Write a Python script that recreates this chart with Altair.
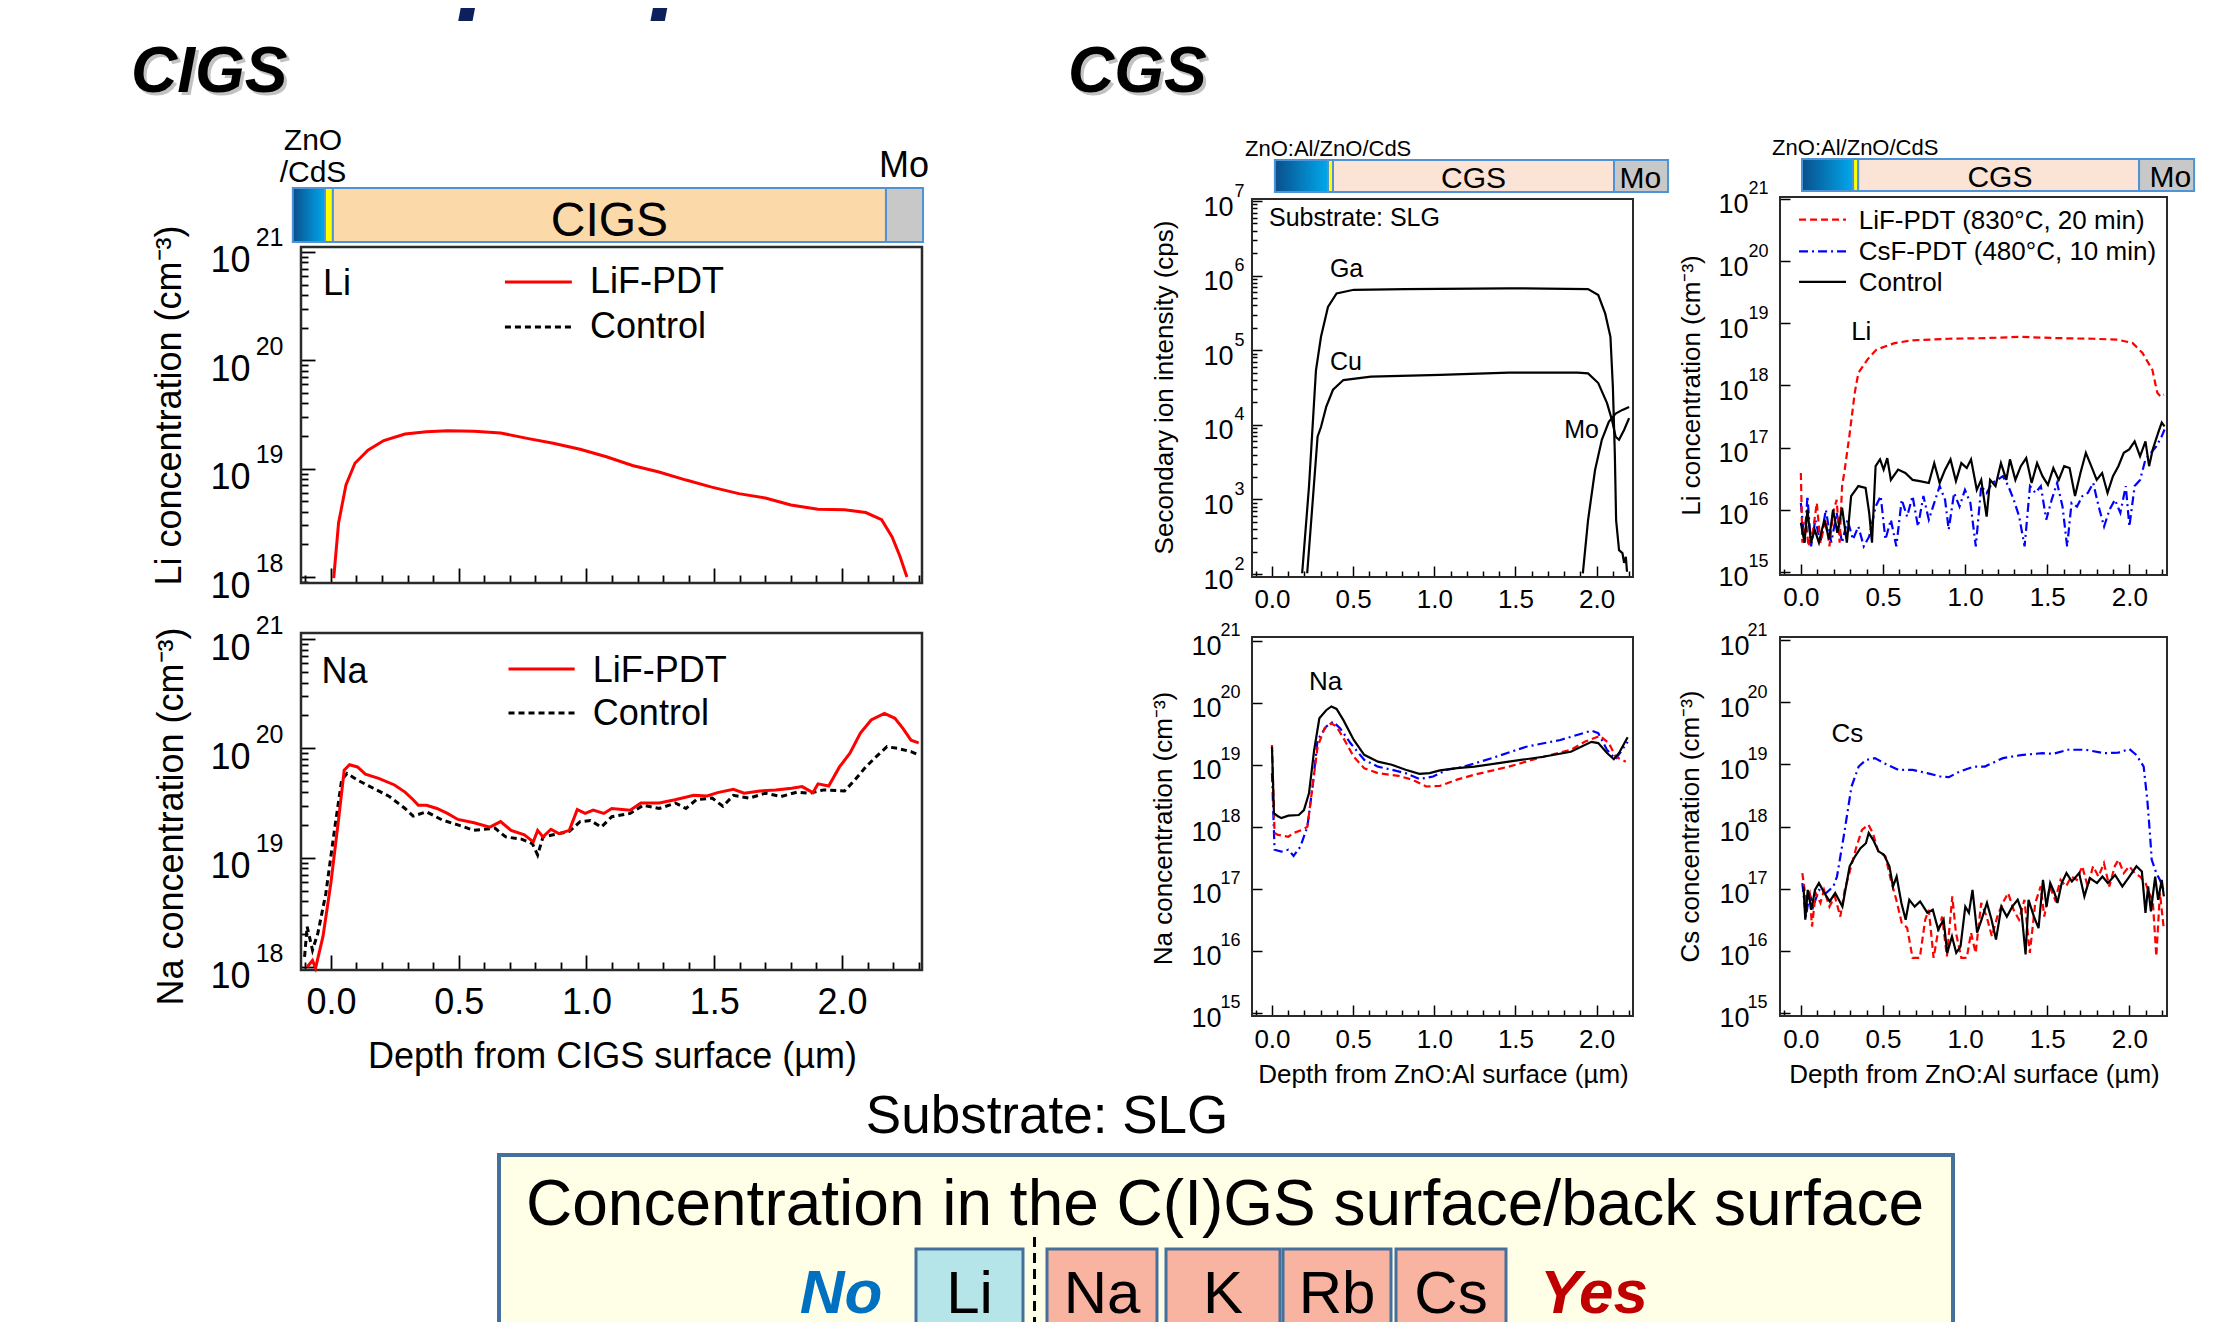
import math
import altair as alt
import pandas as pd

W, H = 2200, 1314
FONT = "Liberation Sans"


def P(v):
    return v - 8


# ======================= data (depth in um, log10 of value) =======================
# CIGS, Li (LiF-PDT)
cigs_li_lif_x = [0.011, 0.03, 0.059, 0.094, 0.145, 0.207, 0.29, 0.374, 0.456, 0.56, 0.664, 0.768, 0.87, 0.975,
                 1.078, 1.18, 1.284, 1.39, 1.49, 1.596, 1.70, 1.80, 1.906, 2.01, 2.093, 2.155, 2.196, 2.227, 2.254]
cigs_li_lif_e = [17.99, 18.50, 18.85, 19.05, 19.17, 19.26, 19.32, 19.34, 19.35, 19.345, 19.33, 19.28, 19.235, 19.18,
                 19.11, 19.03, 18.97, 18.895, 18.83, 18.77, 18.73, 18.665, 18.625, 18.62, 18.595, 18.53, 18.37, 18.19, 18.0]
# CIGS, Na (LiF-PDT)
cigs_na_lif_x = [-0.093, -0.072, -0.06, -0.031, 0.0, 0.031, 0.052, 0.073, 0.104, 0.135, 0.187, 0.249, 0.29, 0.322,
                 0.342, 0.374, 0.415, 0.456, 0.497, 0.56, 0.622, 0.664, 0.705, 0.757, 0.792, 0.809, 0.83, 0.861, 0.892,
                 0.933, 0.964, 0.995, 1.026, 1.068, 1.099, 1.171, 1.213, 1.285, 1.347, 1.42, 1.472, 1.513, 1.575, 1.617,
                 1.679, 1.741, 1.803, 1.844, 1.886, 1.906, 1.948, 1.99, 2.031, 2.072, 2.114, 2.166, 2.207, 2.239, 2.27, 2.30]
cigs_na_lif_e = [18.0, 18.06, 17.99, 18.28, 18.77, 19.37, 19.80, 19.85, 19.83, 19.765, 19.725, 19.665, 19.60, 19.53,
                 19.48, 19.48, 19.45, 19.405, 19.35, 19.32, 19.28, 19.33, 19.25, 19.21, 19.145, 19.25, 19.19, 19.26, 19.22,
                 19.25, 19.44, 19.405, 19.435, 19.405, 19.45, 19.435, 19.50, 19.50, 19.53, 19.57, 19.565, 19.595, 19.625,
                 19.59, 19.61, 19.62, 19.635, 19.65, 19.595, 19.675, 19.655, 19.83, 19.955, 20.14, 20.26, 20.32, 20.275,
                 20.18, 20.075, 20.05]
# CIGS, Na (Control)
cigs_na_ctl_x = [-0.103, -0.093, -0.072, -0.051, -0.02, 0.012, 0.042, 0.063, 0.104, 0.166, 0.229, 0.29, 0.322, 0.374,
                 0.435, 0.497, 0.56, 0.642, 0.684, 0.746, 0.788, 0.809, 0.83, 0.87, 0.933, 0.975, 1.016, 1.058, 1.099,
                 1.171, 1.223, 1.285, 1.348, 1.389, 1.43, 1.492, 1.534, 1.575, 1.638, 1.70, 1.762, 1.824, 1.875, 1.928,
                 2.01, 2.05, 2.093, 2.134, 2.176, 2.217, 2.27, 2.30]
cigs_na_ctl_e = [18.094, 18.37, 18.155, 18.31, 18.67, 19.22, 19.71, 19.77, 19.71, 19.635, 19.56, 19.45, 19.38, 19.42,
                 19.345, 19.30, 19.25, 19.27, 19.19, 19.17, 19.13, 19.025, 19.19, 19.21, 19.24, 19.33, 19.34, 19.28, 19.375,
                 19.405, 19.48, 19.45, 19.50, 19.45, 19.53, 19.545, 19.47, 19.57, 19.545, 19.59, 19.56, 19.60, 19.59, 19.62,
                 19.61, 19.71, 19.83, 19.925, 20.015, 20.0, 19.97, 19.94]
# CGS, secondary ion intensity
cgs_ga_x = [0.186, 0.228, 0.271, 0.302, 0.345, 0.398, 0.504, 0.823, 1.459, 1.947, 2.01, 2.053, 2.085, 2.10, 2.112,
            2.12, 2.138, 2.159, 2.169, 2.18, 2.187]
cgs_ga_e = [2.01, 3.17, 4.73, 5.18, 5.58, 5.76, 5.81, 5.82, 5.83, 5.82, 5.74, 5.49, 5.18, 4.51, 3.62, 2.72, 2.32,
            2.28, 2.15, 2.23, 2.03]
cgs_cu_x = [0.217, 0.25, 0.281, 0.302, 0.334, 0.376, 0.44, 0.61, 1.035, 1.459, 1.883, 1.947, 2.01, 2.064, 2.095,
            2.117, 2.138, 2.169, 2.20]
cgs_cu_e = [2.01, 2.95, 3.84, 3.97, 4.24, 4.47, 4.60, 4.645, 4.67, 4.70, 4.70, 4.69, 4.56, 4.29, 4.06, 3.84, 3.80,
            3.93, 4.09]
cgs_mo_x = [1.915, 1.947, 1.99, 2.032, 2.075, 2.117, 2.159, 2.20]
cgs_mo_e = [2.01, 2.72, 3.39, 3.80, 4.04, 4.15, 4.20, 4.24]
# CGS, Li
cgs_li_lif_x = [0.0, 0.009, 0.031, 0.046, 0.075, 0.097, 0.119, 0.152, 0.174, 0.196, 0.218, 0.236, 0.251, 0.267, 0.295,
                0.328, 0.35, 0.405, 0.46, 0.57, 0.68, 0.90, 1.12, 1.34, 1.56, 1.78, 1.93, 2.02, 2.08, 2.14, 2.17, 2.19, 2.21]
cgs_li_lif_e = [16.59, 15.47, 15.84, 15.41, 15.68, 16.11, 15.47, 15.84, 15.41, 15.95, 16.16, 15.47, 16.38, 16.645, 17.18,
                17.88, 18.20, 18.415, 18.575, 18.68, 18.725, 18.75, 18.76, 18.78, 18.76, 18.75, 18.735, 18.68, 18.52, 18.25,
                17.88, 17.82, 17.85]
cgs_li_ctl_x = [0.0, 0.022, 0.04, 0.062, 0.084, 0.11, 0.143, 0.172, 0.196, 0.222, 0.251, 0.28, 0.306, 0.35, 0.394,
                0.416, 0.433, 0.455, 0.482, 0.504, 0.526, 0.548, 0.592, 0.636, 0.68, 0.724, 0.779, 0.812, 0.845, 0.878,
                0.911, 0.944, 0.977, 1.01, 1.036, 1.071, 1.098, 1.131, 1.152, 1.185, 1.218, 1.251, 1.273, 1.306, 1.339,
                1.372, 1.405, 1.438, 1.471, 1.504, 1.537, 1.57, 1.603, 1.636, 1.669, 1.702, 1.735, 1.768, 1.801, 1.834,
                1.867, 1.9, 1.933, 1.966, 1.999, 2.032, 2.065, 2.098, 2.12, 2.142, 2.175, 2.197, 2.214]
cgs_li_ctl_e = [15.79, 15.47, 16.0, 15.47, 15.68, 15.47, 15.84, 15.52, 16.0, 15.63, 16.03, 15.47, 16.22, 16.38, 16.35,
                15.95, 15.47, 16.70, 16.81, 16.645, 16.83, 16.48, 16.645, 16.59, 16.48, 16.46, 16.43, 16.75, 16.43, 16.645,
                16.81, 16.46, 16.75, 16.67, 16.81, 16.32, 16.48, 15.89, 16.48, 16.38, 16.75, 16.48, 16.81, 16.48, 16.70,
                16.83, 16.43, 16.75, 16.54, 16.40, 16.67, 16.48, 16.70, 16.67, 16.22, 16.59, 16.915, 16.70, 16.48, 16.59,
                16.27, 16.54, 16.70, 16.915, 16.97, 17.10, 16.86, 17.10, 16.70, 16.97, 17.235, 17.40, 17.34]
cgs_li_csf_x = [0.0, 0.022, 0.04, 0.062, 0.088, 0.119, 0.152, 0.185, 0.218, 0.251, 0.284, 0.317, 0.35, 0.383, 0.416,
                0.455, 0.486, 0.515, 0.548, 0.581, 0.614, 0.647, 0.68, 0.713, 0.746, 0.779, 0.812, 0.845, 0.878, 0.9,
                0.933, 0.966, 0.999, 1.032, 1.065, 1.098, 1.131, 1.164, 1.197, 1.23, 1.263, 1.296, 1.329, 1.362, 1.395,
                1.428, 1.461, 1.494, 1.527, 1.56, 1.593, 1.621, 1.648, 1.681, 1.714, 1.747, 1.78, 1.813, 1.846, 1.879,
                1.912, 1.945, 1.978, 2.0, 2.032, 2.065, 2.098, 2.131, 2.164, 2.197, 2.214]
cgs_li_csf_e = [16.11, 15.47, 16.22, 15.41, 15.84, 15.47, 16.0, 15.47, 15.95, 15.47, 15.84, 15.52, 15.73, 15.41, 15.57,
                16.05, 16.22, 15.52, 15.84, 15.41, 16.16, 15.89, 16.22, 15.73, 16.22, 15.84, 16.11, 16.38, 16.16, 15.68,
                16.27, 16.05, 16.32, 16.11, 15.41, 16.38, 16.27, 16.43, 16.48, 16.54, 16.38, 16.16, 15.89, 15.41, 16.38,
                16.27, 16.38, 15.84, 16.16, 16.43, 16.05, 15.41, 16.11, 16.05, 16.22, 16.27, 16.43, 16.05, 15.73, 16.0,
                16.16, 15.95, 16.38, 15.73, 16.38, 16.48, 16.81, 16.915, 17.02, 17.18, 17.29]
# CGS, Na
cgs_na_ctl_x = [0.0, 0.012, 0.037, 0.058, 0.101, 0.165, 0.197, 0.228, 0.26, 0.292, 0.334, 0.366, 0.398, 0.44, 0.504,
                0.568, 0.653, 0.738, 0.823, 0.908, 0.971, 1.035, 1.14, 1.247, 1.459, 1.671, 1.841, 1.968, 2.01, 2.064,
                2.106, 2.138, 2.191]
cgs_na_ctl_e = [19.29, 18.22, 18.17, 18.14, 18.18, 18.19, 18.27, 18.54, 19.24, 19.75, 19.88, 19.94, 19.90, 19.72, 19.40,
                19.16, 19.05, 19.0, 18.92, 18.855, 18.865, 18.91, 18.945, 18.97, 19.05, 19.13, 19.21, 19.37, 19.35, 19.19,
                19.09, 19.19, 19.445]
cgs_na_lif_x = [0.0, 0.016, 0.037, 0.101, 0.133, 0.186, 0.218, 0.25, 0.281, 0.324, 0.366, 0.398, 0.44, 0.504, 0.568,
                0.653, 0.78, 0.865, 0.95, 1.035, 1.14, 1.247, 1.459, 1.671, 1.841, 1.926, 2.021, 2.075, 2.117, 2.18]
cgs_na_lif_e = [19.32, 17.90, 17.87, 17.84, 17.90, 17.95, 18.0, 18.65, 19.29, 19.59, 19.67, 19.615, 19.43, 19.13, 18.945,
                18.865, 18.82, 18.76, 18.65, 18.66, 18.76, 18.84, 18.97, 19.13, 19.24, 19.37, 19.465, 19.35, 19.13, 19.05]
cgs_na_csf_x = [0.0, 0.016, 0.058, 0.101, 0.133, 0.175, 0.218, 0.25, 0.281, 0.334, 0.376, 0.419, 0.483, 0.568, 0.653,
                0.738, 0.823, 0.908, 0.993, 1.078, 1.183, 1.353, 1.565, 1.777, 1.968, 2.01, 2.064, 2.117, 2.191]
cgs_na_csf_e = [18.865, 17.63, 17.60, 17.63, 17.53, 17.68, 18.0, 18.65, 19.40, 19.615, 19.695, 19.59, 19.35, 19.08, 18.97,
                18.92, 18.865, 18.77, 18.81, 18.92, 18.97, 19.105, 19.29, 19.40, 19.55, 19.51, 19.24, 19.09, 19.37]
# CGS, Cs
cgs_cs_csf_x = [0.009, 0.031, 0.053, 0.075, 0.11, 0.154, 0.198, 0.22, 0.264, 0.308, 0.352, 0.396, 0.451, 0.506, 0.594,
                0.681, 0.769, 0.857, 0.901, 0.967, 1.055, 1.12, 1.23, 1.34, 1.472, 1.538, 1.626, 1.735, 1.845, 1.933,
                2.0, 2.043, 2.087, 2.109, 2.125, 2.136, 2.164, 2.186, 2.208]
cgs_cs_csf_e = [17.09, 16.55, 16.93, 16.71, 16.98, 16.93, 17.035, 17.195, 17.89, 18.64, 18.965, 19.07, 19.10, 19.02,
                18.91, 18.91, 18.86, 18.80, 18.795, 18.885, 18.965, 18.965, 19.10, 19.15, 19.18, 19.17, 19.235, 19.235,
                19.18, 19.19, 19.245, 19.15, 18.965, 18.43, 17.89, 17.465, 17.25, 17.14, 16.98]
cgs_cs_ctl_x = [0.016, 0.027, 0.042, 0.064, 0.086, 0.11, 0.143, 0.176, 0.209, 0.231, 0.253, 0.275, 0.297, 0.33, 0.363,
                0.396, 0.413, 0.44, 0.473, 0.506, 0.539, 0.561, 0.583, 0.612, 0.638, 0.66, 0.693, 0.726, 0.77, 0.803,
                0.836, 0.869, 0.891, 0.92, 0.946, 0.972, 1.001, 1.023, 1.045, 1.073, 1.1, 1.133, 1.161, 1.188, 1.221,
                1.254, 1.287, 1.32, 1.342, 1.368, 1.386, 1.419, 1.447, 1.474, 1.496, 1.518, 1.544, 1.562, 1.588, 1.617,
                1.65, 1.694, 1.726, 1.759, 1.803, 1.836, 1.869, 1.913, 1.957, 2.0, 2.043, 2.076, 2.098, 2.114, 2.131,
                2.157, 2.175, 2.197, 2.21]
cgs_cs_ctl_e = [17.035, 16.50, 16.98, 16.66, 16.98, 17.09, 16.93, 16.795, 16.93, 16.82, 16.71, 17.035, 17.36, 17.52,
                17.65, 17.73, 17.895, 17.785, 17.60, 17.545, 17.36, 17.035, 17.195, 16.77, 16.50, 16.82, 16.71, 16.795,
                16.61, 16.66, 16.34, 16.50, 15.965, 16.23, 15.965, 16.07, 16.71, 16.61, 16.98, 16.29, 16.50, 16.77, 16.50,
                16.18, 16.71, 16.55, 16.71, 16.82, 16.66, 15.94, 16.82, 16.55, 16.365, 17.14, 16.71, 17.09, 16.93, 16.77,
                17.09, 17.25, 17.115, 17.25, 16.875, 17.17, 17.09, 17.195, 17.09, 17.22, 17.035, 17.195, 17.36, 17.275,
                16.61, 17.035, 16.635, 17.195, 16.82, 17.14, 16.875]
cgs_cs_lif_x = [0.009, 0.031, 0.053, 0.068, 0.09, 0.119, 0.141, 0.174, 0.207, 0.24, 0.267, 0.295, 0.339, 0.372, 0.411,
                0.438, 0.471, 0.515, 0.548, 0.581, 0.614, 0.647, 0.68, 0.724, 0.757, 0.779, 0.808, 0.834, 0.86, 0.889,
                0.922, 0.944, 0.977, 1.01, 1.036, 1.064, 1.098, 1.131, 1.163, 1.196, 1.229, 1.262, 1.295, 1.328, 1.361,
                1.394, 1.427, 1.46, 1.482, 1.515, 1.548, 1.581, 1.614, 1.647, 1.68, 1.713, 1.746, 1.779, 1.812, 1.845,
                1.878, 1.911, 1.933, 1.966, 1.999, 2.032, 2.065, 2.098, 2.12, 2.142, 2.164, 2.186, 2.208]
cgs_cs_lif_e = [17.25, 16.82, 16.93, 16.39, 16.93, 16.77, 16.98, 16.71, 16.875, 16.55, 16.98, 17.25, 17.68, 17.945,
                18.03, 17.895, 17.60, 17.52, 17.14, 16.82, 16.45, 16.37, 15.885, 15.885, 16.50, 16.66, 15.885, 16.29,
                16.55, 15.91, 16.875, 16.29, 15.885, 15.885, 16.29, 15.965, 16.77, 16.55, 16.23, 16.55, 16.77, 16.93,
                16.66, 16.50, 16.82, 15.965, 16.77, 17.035, 16.55, 17.035, 16.82, 17.14, 17.035, 17.195, 17.14, 17.36,
                17.035, 17.36, 17.195, 17.41, 17.035, 17.36, 17.465, 17.25, 17.36, 17.25, 17.195, 17.09, 16.93, 16.82,
                15.91, 16.93, 16.39]

ELEMENTS = ["Li", "Na", "K", "Rb", "Cs"]
ELEMENT_AT_SURFACE = [False, True, True, True, True]

# ======================= layout =======================
PANELS = {
    "cigs_li": dict(xd=(-0.117, 2.313), xr=(301, 922), yd=(17.945, 21.046), yr=(583, 247)),
    "cigs_na": dict(xd=(-0.117, 2.313), xr=(301, 922), yd=(17.973, 21.055), yr=(970, 633)),
    "cgs_tl": dict(xd=(-0.123, 2.224), xr=(1252, 1633), yd=(1.96, 7.027), yr=(577, 199)),
    "cgs_tr": dict(xd=(-0.127, 2.229), xr=(1780, 2167), yd=(14.95, 21.03), yr=(575, 197)),
    "cgs_bl": dict(xd=(-0.123, 2.224), xr=(1252, 1633), yd=(14.95, 21.06), yr=(1016, 637)),
    "cgs_br": dict(xd=(-0.127, 2.229), xr=(1780, 2167), yd=(14.95, 21.05), yr=(1016, 637)),
}
X_MAJOR = [0.0, 0.5, 1.0, 1.5, 2.0]
CIGS_XMINOR = [round(-0.1 + 0.1 * i, 1) for i in range(25) if round(-0.1 + 0.1 * i, 1) not in X_MAJOR]
CGS_XMINOR = [round(-0.1 + 0.1 * i, 1) for i in range(24) if round(-0.1 + 0.1 * i, 1) not in X_MAJOR]

RED, BLUE, BLACK = "#ff0000", "#0000ff", "#000000"
ONE = pd.DataFrame({"k": [0]})


def scales(c):
    xs = alt.Scale(domain=list(c["xd"]), range=[P(c["xr"][0]), P(c["xr"][1])], nice=False, zero=False)
    ys = alt.Scale(type="log", domain=[10 ** c["yd"][0], 10 ** c["yd"][1]],
                   range=[P(c["yr"][0]), P(c["yr"][1])], nice=False)
    return xs, ys


def decades(c):
    return [10.0 ** k for k in range(math.ceil(c["yd"][0]), math.floor(c["yd"][1]) + 1)]


def minors(c):
    out = []
    for d in range(math.floor(c["yd"][0]), math.ceil(c["yd"][1])):
        for k in range(2, 10):
            v = k * 10.0 ** d
            if c["yd"][0] <= math.log10(v) <= c["yd"][1]:
                out.append(v)
    return out


def series(xv, ev, xs, ys, color, width, dash=None):
    n = min(len(xv), len(ev))
    df = pd.DataFrame({"x": xv[:n], "y": [10 ** e for e in ev[:n]]})
    kw = dict(color=color, strokeWidth=width)
    if dash:
        kw["strokeDash"] = dash
    return alt.Chart(df).mark_line(**kw).encode(
        x=alt.X("x:Q", scale=xs, axis=None), y=alt.Y("y:Q", scale=ys, axis=None))


def dtext(x, e, s, xs, ys, size, align="left"):
    df = pd.DataFrame({"x": [x], "y": [10 ** e], "t": [s]})
    return alt.Chart(df).mark_text(align=align, baseline="alphabetic", fontSize=size, font=FONT,
                                   color="black").encode(
        x=alt.X("x:Q", scale=xs, axis=None), y=alt.Y("y:Q", scale=ys, axis=None), text="t:N")


def frame(xs, ys, c, sw):
    df = pd.DataFrame({"x0": [c["xd"][0]], "x1": [c["xd"][1]],
                       "y0": [10 ** c["yd"][0]], "y1": [10 ** c["yd"][1]]})
    return alt.Chart(df).mark_rect(fillOpacity=0, stroke="#2a2a2a", strokeWidth=sw).encode(
        x=alt.X("x0:Q", scale=xs, axis=None), x2="x1:Q",
        y=alt.Y("y0:Q", scale=ys, axis=None), y2="y1:Q")


def seg(xs, x0, x1, y0, y1, fill):
    df = pd.DataFrame({"a": [x0], "b": [x1]})
    return alt.Chart(df).mark_rect(fill=fill, stroke="#4d93d6", strokeWidth=2).encode(
        x=alt.X("a:Q", scale=xs, axis=None), x2="b:Q", y=alt.value(P(y0)), y2=alt.value(P(y1)))


def btext(xs, x, y, s, size, align="center"):
    df = pd.DataFrame({"a": [x], "t": [s]})
    return alt.Chart(df).mark_text(align=align, baseline="alphabetic", fontSize=size, font=FONT,
                                   color="black").encode(
        x=alt.X("a:Q", scale=xs, axis=None), y=alt.value(P(y)), text="t:N")


GRAD = {"gradient": "linear", "x1": 0, "y1": 0, "x2": 1, "y2": 0,
        "stops": [{"offset": 0, "color": "#0a4f8c"}, {"offset": 1, "color": "#00a8ec"}]}


def layer_bar(xs, b, y0, y1, absorber_fill):
    return [seg(xs, b[0], b[1], y0, y1, GRAD), seg(xs, b[1], b[2], y0, y1, "#ffff00"),
            seg(xs, b[2], b[3], y0, y1, absorber_fill), seg(xs, b[3], b[4], y0, y1, "#c8c8c8")]


def ax(**kw):
    base = dict(grid=False, domain=False, labelFont=FONT, labelColor="black", titleFont=FONT,
                titleColor="black", titleFontWeight="normal", labelFlush=False, labelOverlap=False,
                labelBound=False, tickColor="black")
    base.update(kw)
    return alt.Axis(**base)


def axis_x(xs, values, axis):
    return alt.Chart(pd.DataFrame({"v": values})).mark_point(opacity=0).encode(
        x=alt.X("v:Q", scale=xs, axis=axis))


def axis_y(ys, values, axis):
    return alt.Chart(pd.DataFrame({"v": values})).mark_point(opacity=0).encode(
        y=alt.Y("v:Q", scale=ys, axis=axis))


def build_panel(key, xs, ys, content, st):
    c = PANELS[key]
    xl, yb = c["xr"][0], c["yr"][0]
    layers = [frame(xs, ys, c, st["fw"])] + content
    tw = st["tw"]
    layers.append(axis_x(xs, X_MAJOR, ax(orient="top", offset=-P(yb), values=X_MAJOR, labels=False,
                                         ticks=True, tickSize=st["xt"][0], tickWidth=tw, title=None)))
    layers.append(axis_x(xs, st["xminor"], ax(orient="top", offset=-P(yb), values=st["xminor"], labels=False,
                                              ticks=True, tickSize=st["xt"][1], tickWidth=tw, title=None)))
    dec = decades(c)
    layers.append(axis_y(ys, dec, ax(orient="right", offset=P(xl) - W, values=dec, labels=False, ticks=True,
                                     tickSize=st["yt"][0], tickWidth=tw, title=None)))
    if st.get("yminor"):
        mn = minors(c)
        layers.append(axis_y(ys, mn, ax(orient="right", offset=P(xl) - W, values=mn, labels=False, ticks=True,
                                        tickSize=st["yt"][1], tickWidth=tw, title=None)))
    if st.get("xlabels"):
        kw = dict(orient="bottom", offset=P(yb) - H, values=X_MAJOR, format=".1f", ticks=False, tickSize=0,
                  labelFontSize=st["xfs"], labelPadding=st["xpad"], labelBaseline="alphabetic", labelAlign="center")
        if st.get("xtitle"):
            t, cx, by = st["xtitle"]
            kw.update(title=t, titleFontSize=st["tfs"], titleX=P(cx), titleY=by - yb, titleAngle=0,
                      titleAlign="center", titleBaseline="alphabetic")
        else:
            kw.update(title=None)
        layers.append(axis_x(xs, X_MAJOR, ax(**kw)))
    t, bx, cy = st["ytitle"]
    layers.append(axis_y(ys, dec, ax(orient="left", offset=-P(xl), values=dec, labelExpr="'10'", ticks=False,
                                     tickSize=0, labelFontSize=st["y10"][0], labelPadding=st["y10"][1],
                                     labelOffset=st["y10"][2], labelAlign="right", labelBaseline="alphabetic",
                                     title=t, titleFontSize=st["tfs"], titleX=bx - xl, titleY=P(cy),
                                     titleAngle=270, titleAlign="center", titleBaseline="alphabetic")))
    layers.append(axis_y(ys, dec, ax(orient="left", offset=-P(xl), values=dec,
                                     labelExpr="'' + round(log(datum.value) / LN10)", ticks=False, tickSize=0,
                                     labelFontSize=st["yexp"][0], labelPadding=st["yexp"][1],
                                     labelOffset=st["yexp"][2], labelAlign="right", labelBaseline="alphabetic",
                                     title=None)))
    return alt.layer(*layers).resolve_axis(x="independent", y="independent")


CM3 = " concentration (cm\u207b\u00b3)"
CIGS_ST = dict(fw=2.5, tw=1.8, xt=(15, 8), yt=(14, 7), xminor=CIGS_XMINOR, yminor=True, xfs=36, xpad=43,
               tfs=36, y10=(36, 51, 20), yexp=(25, 18, -6))
CGS_ST = dict(fw=2, tw=1.5, xt=(11, 6), yt=(10, 5), xminor=CGS_XMINOR, yminor=False, xfs=26, xpad=30,
              tfs=26, y10=(27, 32, 14), yexp=(18, 12, -5), xlabels=True)

panels = []

# ---- CIGS Li ----
xs, ys = scales(PANELS["cigs_li"])
content = layer_bar(xs, [-0.149, -0.0235, 0.0078, 2.172, 2.317], 188, 242, "#fcd9a8")
content += [btext(xs, 1.09, 236, "CIGS", 48), btext(xs, -0.07, 150, "ZnO", 30), btext(xs, -0.07, 182, "/CdS", 30),
            btext(xs, 2.243, 177, "Mo", 36)]
content += [series(cigs_li_lif_x, cigs_li_lif_e, xs, ys, RED, 3),
            series([0.681, 0.943], [20.724, 20.724], xs, ys, RED, 3),
            series([0.681, 0.943], [20.308, 20.308], xs, ys, BLACK, 3, [6, 4]),
            dtext(1.014, 20.622, "LiF-PDT", xs, ys, 36), dtext(1.014, 20.207, "Control", xs, ys, 36),
            dtext(-0.031, 20.604, "Li", xs, ys, 36)]
panels.append(build_panel("cigs_li", xs, ys, content,
                          dict(CIGS_ST, ytitle=("Li" + CM3, 180, 405))))

# ---- CIGS Na ----
xs, ys = scales(PANELS["cigs_na"])
content = [series(cigs_na_ctl_x, cigs_na_ctl_e, xs, ys, BLACK, 3, [6, 4]),
           series(cigs_na_lif_x, cigs_na_lif_e, xs, ys, RED, 3),
           series([0.695, 0.954], [20.726, 20.726], xs, ys, RED, 3),
           series([0.695, 0.954], [20.324, 20.324], xs, ys, BLACK, 3, [6, 4]),
           dtext(1.025, 20.607, "LiF-PDT", xs, ys, 36), dtext(1.025, 20.214, "Control", xs, ys, 36),
           dtext(-0.037, 20.598, "Na", xs, ys, 36)]
panels.append(build_panel("cigs_na", xs, ys, content,
                          dict(CIGS_ST, xlabels=True, ytitle=("Na" + CM3, 182, 816),
                               xtitle=("Depth from CIGS surface (\u00b5m)", 612, 1067))))

# ---- CGS top-left (SIMS intensity) ----
xs, ys = scales(PANELS["cgs_tl"])
content = layer_bar(xs, [0.018, 0.345, 0.376, 2.107, 2.44], 160, 192, "#fbe3d5")
content += [btext(xs, 1.2415, 188, "CGS", 30), btext(xs, 2.27, 188, "Mo", 30),
            btext(xs, -0.166, 156, "ZnO:Al/ZnO/CdS", 22, align="left")]
content += [series(cgs_ga_x, cgs_ga_e, xs, ys, BLACK, 2.2), series(cgs_cu_x, cgs_cu_e, xs, ys, BLACK, 2.2),
            series(cgs_mo_x, cgs_mo_e, xs, ys, BLACK, 2.2),
            dtext(-0.018, 6.665, "Substrate: SLG", xs, ys, 25), dtext(0.357, 5.98, "Ga", xs, ys, 25),
            dtext(0.357, 4.735, "Cu", xs, ys, 25), dtext(1.80, 3.823, "Mo", xs, ys, 25)]
panels.append(build_panel("cgs_tl", xs, ys, content,
                          dict(CGS_ST, yminor=True, y10=(27, 19, 14), yexp=(18, 8, -5),
                               ytitle=("Secondary ion intensity (cps)", 1172, 387))))

# ---- CGS top-right (Li) ----
xs, ys = scales(PANELS["cgs_tr"])
content = layer_bar(xs, [0.007, 0.318, 0.349, 2.059, 2.394], 159, 191, "#fbe3d5")
content += [btext(xs, 1.212, 187, "CGS", 30), btext(xs, 2.249, 187, "Mo", 30),
            btext(xs, -0.175, 155, "ZnO:Al/ZnO/CdS", 22, align="left")]
content += [series(cgs_li_csf_x, cgs_li_csf_e, xs, ys, BLUE, 2.2, [9, 4, 2, 4]),
            series(cgs_li_lif_x, cgs_li_lif_e, xs, ys, RED, 2.2, [7, 4]),
            series(cgs_li_ctl_x, cgs_li_ctl_e, xs, ys, BLACK, 2.2),
            series([-0.011, 0.275], [20.667, 20.667], xs, ys, RED, 2.2, [7, 4]),
            series([-0.011, 0.275], [20.157, 20.157], xs, ys, BLUE, 2.2, [9, 4, 2, 4]),
            series([-0.011, 0.275], [19.665, 19.665], xs, ys, BLACK, 2.2),
            dtext(0.352, 20.522, "LiF-PDT (830\u00b0C, 20 min)", xs, ys, 26),
            dtext(0.352, 20.023, "CsF-PDT (480\u00b0C, 10 min)", xs, ys, 26),
            dtext(0.352, 19.525, "Control", xs, ys, 26),
            dtext(0.306, 18.737, "Li", xs, ys, 26)]
panels.append(build_panel("cgs_tr", xs, ys, content, dict(CGS_ST, ytitle=("Li" + CM3, 1699, 385))))

# ---- CGS bottom-left (Na) ----
xs, ys = scales(PANELS["cgs_bl"])
content = [series(cgs_na_csf_x, cgs_na_csf_e, xs, ys, BLUE, 2.2, [9, 4, 2, 4]),
           series(cgs_na_lif_x, cgs_na_lif_e, xs, ys, RED, 2.2, [7, 4]),
           series(cgs_na_ctl_x, cgs_na_ctl_e, xs, ys, BLACK, 2.2),
           dtext(0.228, 20.206, "Na", xs, ys, 26)]
panels.append(build_panel("cgs_bl", xs, ys, content,
                          dict(CGS_ST, xpad=31, y10=(27, 31, 14), ytitle=("Na" + CM3, 1171, 828),
                               xtitle=("Depth from ZnO:Al surface (\u00b5m)", 1443, 1082))))

# ---- CGS bottom-right (Cs) ----
xs, ys = scales(PANELS["cgs_br"])
content = [series(cgs_cs_csf_x, cgs_cs_csf_e, xs, ys, BLUE, 2.2, [9, 4, 2, 4]),
           series(cgs_cs_lif_x, cgs_cs_lif_e, xs, ys, RED, 2.2, [7, 4]),
           series(cgs_cs_ctl_x, cgs_cs_ctl_e, xs, ys, BLACK, 2.2),
           dtext(0.187, 19.362, "Cs", xs, ys, 26)]
panels.append(build_panel("cgs_br", xs, ys, content,
                          dict(CGS_ST, xpad=31, y10=(27, 31, 14), yexp=(18, 13, -5), ytitle=("Cs" + CM3, 1698, 826),
                               xtitle=("Depth from ZnO:Al surface (\u00b5m)", 1974, 1082))))


# ======================= slide decoration =======================
def vtext(x, y, s, size, align="left", color="black", weight="normal", style="normal", opacity=1.0):
    return alt.Chart(ONE).mark_text(text=s, align=align, baseline="alphabetic", fontSize=size, font=FONT,
                                    color=color, fontWeight=weight, fontStyle=style, opacity=opacity).encode(
        x=alt.value(P(x)), y=alt.value(P(y)))


def vrect(x0, y0, x1, y1, fill, stroke, sw):
    return alt.Chart(ONE).mark_rect(fill=fill, stroke=stroke, strokeWidth=sw).encode(
        x=alt.value(P(x0)), x2=alt.value(P(x1)), y=alt.value(P(y0)), y2=alt.value(P(y1)))


decor = [vtext(52, -1, "SIMS depth profiles", 105, color="#0d1f5c", weight="bold", style="italic")]
for s, x in [("CIGS", 131), ("CGS", 1068)]:
    decor.append(vtext(x + 3, 95, s, 64, color="#9a9a9a", weight="bold", style="italic", opacity=0.6))
    decor.append(vtext(x, 92, s, 64, weight="bold", style="italic"))
decor.append(vtext(1047, 1133, "Substrate: SLG", 53, align="center"))
decor.append(vrect(499, 1155, 1953, 1345, "#fffee6", "#44709b", 4))
decor.append(vtext(1225, 1225, "Concentration in the C(I)GS surface/back surface", 64, align="center"))
decor.append(vtext(841, 1313, "No", 62, align="center", color="#0070c0", weight="bold", style="italic"))
decor.append(vtext(1594, 1313, "Yes", 62, align="center", color="#c00000", weight="bold", style="italic"))
BOX_X = [(916, 1023), (1047, 1157), (1166, 1280), (1283, 1391), (1396, 1506)]
for name, surf, (a, b) in zip(ELEMENTS, ELEMENT_AT_SURFACE, BOX_X):
    decor.append(vrect(a, 1249, b, 1327, "#f9b3a1" if surf else "#b5e5e8", "#44709b", 3))
    decor.append(vtext((a + b) / 2, 1313, name, 60, align="center"))
decor.append(alt.Chart(ONE).mark_rule(color="black", strokeWidth=3, strokeDash=[10, 6]).encode(
    x=alt.value(P(1034.5)), y=alt.value(P(1237)), y2=alt.value(P(1345))))

chart = alt.layer(*decor, *panels).resolve_scale(x="independent", y="independent").properties(
    width=W, height=H, padding=0, autosize=alt.AutoSizeParams(type="none")
).configure_view(strokeWidth=0)

chart.save("out.html", embed_options={"renderer": "svg", "actions": False})
